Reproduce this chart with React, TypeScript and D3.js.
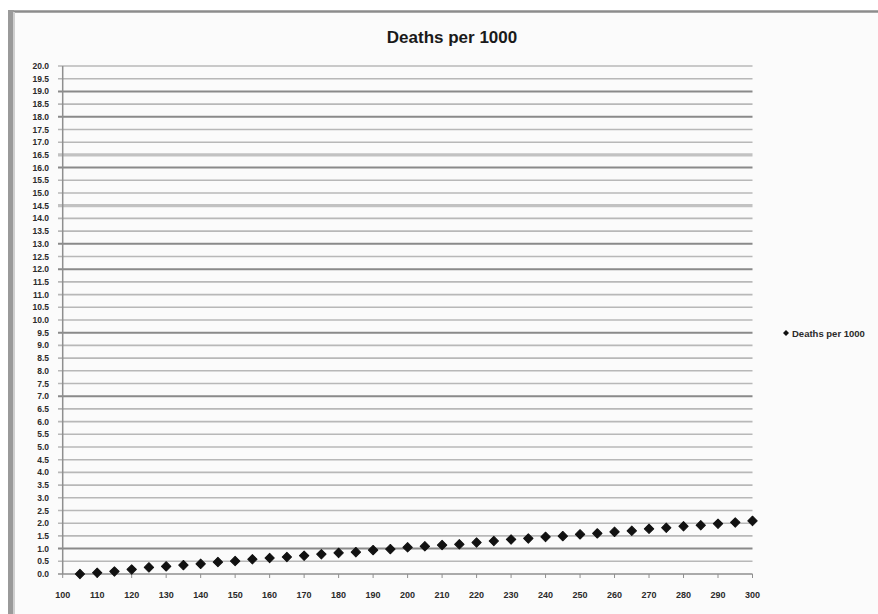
import React from "react";
import * as d3 from "d3";

const title = "Deaths per 1000";
const seriesName = "Deaths per 1000";
const xValues = [105,110,115,120,125,130,135,140,145,150,155,160,165,170,175,180,185,190,195,200,205,210,215,220,225,230,235,240,245,250,255,260,265,270,275,280,285,290,295,300];
const yValues = [0.0,0.05,0.1,0.18,0.26,0.3,0.35,0.4,0.47,0.51,0.58,0.63,0.67,0.72,0.78,0.83,0.86,0.94,0.98,1.05,1.09,1.14,1.17,1.24,1.3,1.36,1.4,1.46,1.49,1.56,1.6,1.66,1.7,1.78,1.82,1.88,1.92,1.98,2.03,2.09];
const xTicks = d3.range(100, 301, 10);
const yTicks = d3.range(0, 20.01, 0.5);
const darkGrid = [19.0, 18.0, 16.0, 13.0, 12.0, 9.5, 7.0, 1.0];
const thickGrid = [16.5, 14.5];

export default function App() {
  const W = 878, H = 614;
  const left = 62.7, right = 752.5, top = 66, bottom = 574;
  const x = d3.scaleLinear().domain([100, 300]).range([left, right]);
  const y = d3.scaleLinear().domain([0, 20]).range([bottom, top]);
  const marker = d3.symbol().type(d3.symbolSquare).size(44)() as string;
  const legendMarker = d3.symbol().type(d3.symbolSquare).size(18)() as string;
  const font = "'Liberation Sans', Arial, sans-serif";
  const isIn = (arr: number[], v: number) => arr.some(a => Math.abs(a - v) < 1e-6);

  return (
    <svg width={W} height={H} style={{ position: "absolute", left: 0, top: 0 }} xmlns="http://www.w3.org/2000/svg">
      <rect x={0} y={0} width={W} height={H} fill="#ffffff" />
      <rect x={12} y={12} width={W - 12} height={H - 12} fill="#fbfbfb" />
      {/* frame */}
      <line x1={9} x2={W} y1={11.5} y2={11.5} stroke="#8c8c8c" strokeWidth={2.5} />
      <rect x={8} y={10} width={6} height={H - 10} fill="#9a9a9a" />
      <rect x={13} y={12} width={2} height={H - 12} fill="#cfcfcf" />
      {/* title */}
      <text x={452} y={43} textAnchor="middle" fontFamily={font} fontWeight="bold" fontSize={17} fill="#1a1a1a">{title}</text>
      {/* gridlines */}
      {yTicks.map(v => {
        const dark = isIn(darkGrid, v);
        const thick = isIn(thickGrid, v);
        const stroke = v === 0 ? "#8f8f8f" : dark ? "#8a8a8a" : thick ? "#c2c2c2" : "#b8b8b8";
        const sw = v === 0 ? 1.5 : dark ? 2 : thick ? 3.2 : 1.6;
        return <line key={v} x1={58} x2={right} y1={y(v)} y2={y(v)} stroke={stroke} strokeWidth={sw} />;
      })}
      {/* y axis */}
      <line x1={left} x2={left} y1={top} y2={bottom} stroke="#8f8f8f" strokeWidth={1.5} />
      {yTicks.map(v => (
        <text key={"yl" + v} x={49} y={y(v) + 3} textAnchor="end" fontFamily={font} fontWeight="bold" fontSize={8.5} fill="#2a2a2a">{v.toFixed(1)}</text>
      ))}
      {/* x ticks */}
      {xTicks.map(v => (
        <g key={"xt" + v}>
          <line x1={x(v)} x2={x(v)} y1={bottom} y2={bottom + 4} stroke="#8f8f8f" strokeWidth={1} />
          <text x={x(v)} y={598} textAnchor="middle" fontFamily={font} fontWeight="bold" fontSize={9} fill="#2a2a2a">{v}</text>
        </g>
      ))}
      {/* points */}
      {xValues.map((xv, i) => (
        <path key={"p" + xv} d={marker} transform={`translate(${x(xv)},${y(yValues[i])}) rotate(45)`} fill="#111" stroke="#111" strokeWidth={1} strokeLinejoin="round" />
      ))}
      {/* legend */}
      <path d={legendMarker} transform="translate(786,333) rotate(45)" fill="#111" />
      <text x={792} y={336.5} fontFamily={font} fontWeight="bold" fontSize={9.5} fill="#2a2a2a">{seriesName}</text>
    </svg>
  );
}
